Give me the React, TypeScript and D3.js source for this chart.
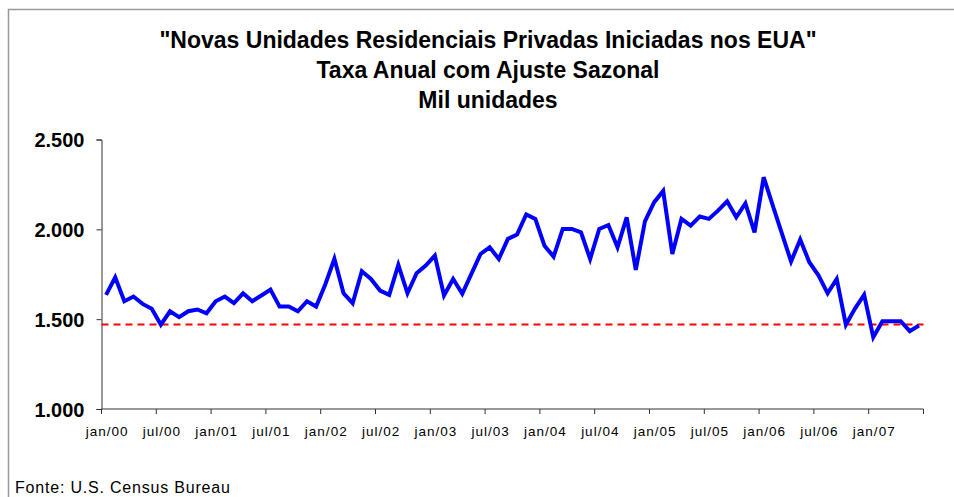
import React, { useEffect, useRef } from "react";
import * as d3 from "d3";

const titleLines = [
  '"Novas Unidades Residenciais Privadas Iniciadas nos EUA"',
  "Taxa Anual com Ajuste Sazonal",
  "Mil unidades",
];
const source = "Fonte: U.S. Census Bureau";

const monthNames = ["jan", "fev", "mar", "abr", "mai", "jun", "jul", "ago", "set", "out", "nov", "dez"];
const years = ["00", "01", "02", "03", "04", "05", "06", "07"];

const values2000 = [1635, 1733, 1600, 1626, 1585, 1558, 1469, 1544, 1511, 1544, 1554, 1533];
const values2001 = [1600, 1626, 1589, 1644, 1600, 1632, 1665, 1570, 1570, 1544, 1600, 1570];
const values2002 = [1693, 1836, 1644, 1589, 1767, 1724, 1659, 1635, 1802, 1644, 1756, 1798];
const values2003 = [1854, 1632, 1724, 1641, 1752, 1863, 1900, 1835, 1947, 1971, 2083, 2058];
const values2004 = [1909, 1848, 2002, 2002, 1983, 1835, 2002, 2024, 1900, 2067, 1774, 2044];
const values2005 = [2150, 2214, 1863, 2058, 2021, 2071, 2058, 2104, 2156, 2067, 2144, 1983];
const values2006 = [2290, 2132, 1976, 1821, 1943, 1817, 1744, 1644, 1724, 1469, 1559, 1636];
const values2007 = [1400, 1489, 1489, 1489, 1433, 1465];

const referenceLevel = 1470;
const yTicks = [1000, 1500, 2000, 2500];

const allValues = [
  ...values2000, ...values2001, ...values2002, ...values2003,
  ...values2004, ...values2005, ...values2006, ...values2007,
];

const categories: string[] = allValues.map((_, i) => {
  const y = Math.floor(i / 12);
  const m = i % 12;
  return `${monthNames[m]}/${years[y]}`;
});

const W = 954;
const H = 497;
const margin = { left: 101.5, right: 954 - 923.5, top: 139.5, bottom: 497 - 409 };

const fmt = (v: number) => d3.format(",")(v).replace(/,/g, ".");

export default function App() {
  const ref = useRef<SVGSVGElement | null>(null);

  useEffect(() => {
    const svg = d3.select(ref.current);
    svg.selectAll("*").remove();

    svg.append("rect").attr("x", 0).attr("y", 0).attr("width", W).attr("height", H).attr("fill", "#fff");

    // frame
    svg.append("path")
      .attr("d", `M8.5,${H} L8.5,9.5 L${W},9.5`)
      .attr("fill", "none")
      .attr("stroke", "#999")
      .attr("stroke-width", 1.5);

    // title
    const t = svg.append("text")
      .attr("text-anchor", "middle")
      .attr("font-family", "Liberation Sans, Arial, sans-serif")
      .attr("font-weight", "bold")
      .attr("font-size", 23)
      .attr("fill", "#000");
    titleLines.forEach((line, i) => {
      t.append("tspan").attr("x", 488).attr("y", 48 + i * 30).text(line);
    });

    const x = d3.scaleBand<string>()
      .domain(categories)
      .range([margin.left, W - margin.right])
      .paddingInner(0)
      .paddingOuter(0);

    const y = d3.scaleLinear()
      .domain([1000, 2500])
      .range([H - margin.bottom, margin.top]);

    // y axis
    const yAxis = d3.axisLeft(y)
      .tickValues(yTicks)
      .tickSize(5)
      .tickFormat((d) => fmt(d as number));
    const gy = svg.append("g").attr("transform", `translate(${margin.left},0)`).call(yAxis);
    gy.select(".domain").attr("stroke", "#333").attr("stroke-width", 1);
    gy.selectAll(".tick line").attr("stroke", "#333");
    gy.selectAll(".tick text")
      .attr("font-family", "Liberation Sans, Arial, sans-serif")
      .attr("font-weight", "bold")
      .attr("font-size", 20)
      .attr("fill", "#000")
      .attr("x", -17)
      .attr("dy", "0.36em");

    // x axis with ticks at category boundaries every 6 months
    const xBase = H - margin.bottom;
    const gx = svg.append("g");
    gx.append("line")
      .attr("x1", margin.left).attr("x2", W - margin.right)
      .attr("y1", xBase).attr("y2", xBase)
      .attr("stroke", "#333");
    const tickIdx = d3.range(0, categories.length + 1, 6);
    tickIdx.forEach((i) => {
      const px = i < categories.length ? (x(categories[i]) as number) : W - margin.right;
      gx.append("line")
        .attr("x1", px).attr("x2", px)
        .attr("y1", xBase).attr("y2", xBase + 5)
        .attr("stroke", "#333");
    });
    d3.range(0, categories.length, 6).forEach((i) => {
      const px = (x(categories[i]) as number) + x.bandwidth() / 2;
      gx.append("text")
        .attr("x", px + 1)
        .attr("y", 436)
        .attr("text-anchor", "middle")
        .attr("font-family", "Liberation Sans, Arial, sans-serif")
        .attr("font-size", 13.5)
        .attr("letter-spacing", 1)
        .attr("fill", "#000")
        .text(categories[i]);
    });

    // reference dashed line
    svg.append("line")
      .attr("x1", margin.left).attr("x2", W - margin.right)
      .attr("y1", y(referenceLevel)).attr("y2", y(referenceLevel))
      .attr("stroke", "#ff0000")
      .attr("stroke-width", 2)
      .attr("stroke-dasharray", "7,5");

    // series line
    const line = d3.line<number>()
      .x((_, i) => (x(categories[i]) as number) + x.bandwidth() / 2)
      .y((d) => y(d));
    svg.append("path")
      .datum(allValues)
      .attr("d", line)
      .attr("fill", "none")
      .attr("stroke", "#0000ff")
      .attr("stroke-width", 4)
      .attr("stroke-linejoin", "miter");

    // source
    svg.append("text")
      .attr("x", 15)
      .attr("y", 493)
      .attr("font-family", "Liberation Sans, Arial, sans-serif")
      .attr("font-size", 16)
      .attr("letter-spacing", 0.8)
      .attr("fill", "#000")
      .text(source);
  }, []);

  return (
    <svg
      ref={ref}
      width={W}
      height={H}
      style={{ position: "absolute", left: 0, top: 0, display: "block" }}
    />
  );
}
